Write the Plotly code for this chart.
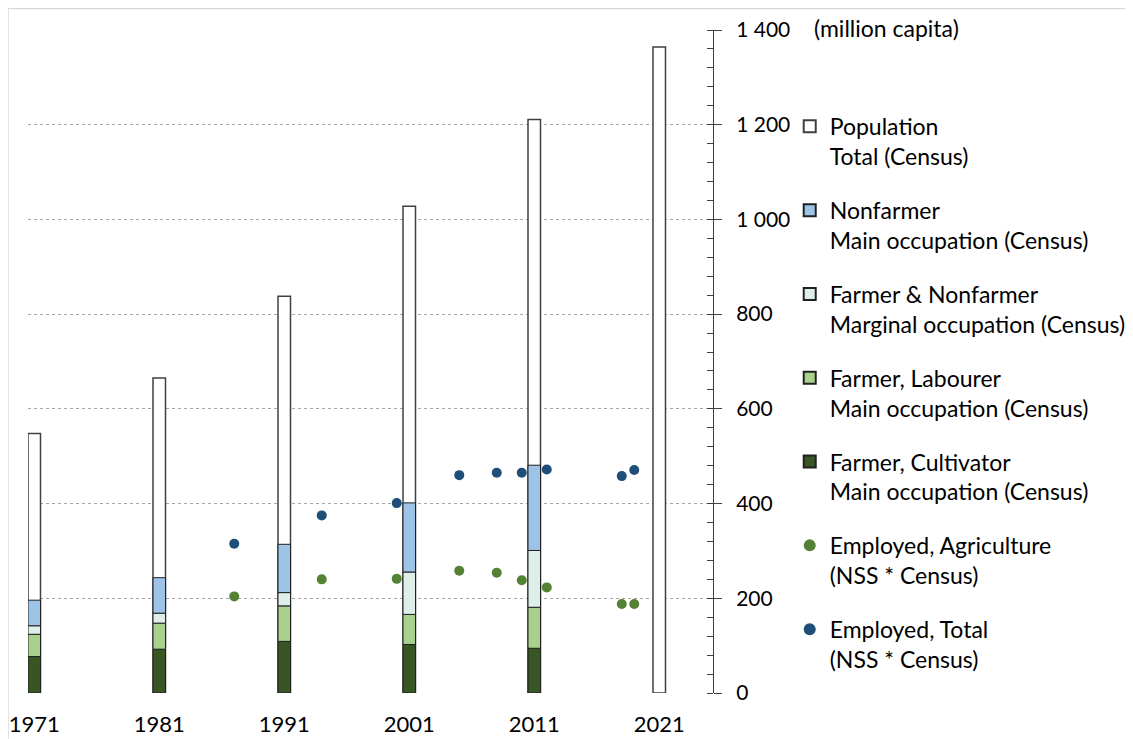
import plotly.graph_objects as go

years = [1971, 1981, 1991, 2001, 2011, 2021]
population = [548, 665, 838, 1028, 1211, 1364]
cultivator = [77, 92.5, 109, 102.5, 94.5, None]
labourer = [47, 55, 75, 63.5, 86.5, None]
marginal = [18, 21, 28, 89.5, 120, None]
nonfarmer = [54, 75, 102, 146, 180, None]

nss_years = [1987, 1994, 2000, 2005, 2008, 2010, 2012, 2018, 2019]
emp_agri = [204, 240, 241, 258, 254, 238, 223, 188, 188]
emp_total = [315, 375, 401, 460, 465, 465, 472, 458, 471]

y_ticks = [0, 200, 400, 600, 800, 1000, 1200, 1400]
y_ticktext = ["0", "200", "400", "600", "800", "1 000", "1 200", "1 400"]

FONT = "Lato"
fig = go.Figure()

fig.add_trace(go.Bar(
    x=years, y=population, width=1.0, name="Population<br>Total (Census)",
    marker=dict(color="white", line=dict(color="#404040", width=1.5)),
    legendgroup="a", legendrank=1))

segments = [
    ("Farmer, Cultivator<br>Main occupation (Census)", cultivator, "#375623", 5),
    ("Farmer, Labourer<br>Main occupation (Census)", labourer, "#A9D18E", 4),
    ("Farmer &amp; Nonfarmer<br>Marginal occupation (Census)", marginal, "#DEEFEA", 3),
    ("Nonfarmer<br>Main occupation (Census)", nonfarmer, "#9DC3E6", 2),
]
base = [0] * len(years)
for name, vals, col, rank in segments:
    yv = [v if v is not None else 0 for v in vals]
    fig.add_trace(go.Bar(
        x=years[:5], y=yv[:5], base=base[:5], width=1.0, name=name,
        marker=dict(color=col, line=dict(color="#202020", width=1)),
        legendgroup=name, legendrank=rank))
    base = [b + v for b, v in zip(base, yv)]

fig.add_trace(go.Scatter(
    x=nss_years, y=emp_agri, mode="markers", name="Employed, Agriculture<br>(NSS * Census)",
    marker=dict(color="#548235", size=10), legendgroup="g", legendrank=6))
fig.add_trace(go.Scatter(
    x=nss_years, y=emp_total, mode="markers", name="Employed, Total<br>(NSS * Census)",
    marker=dict(color="#1F4E79", size=10), legendgroup="t", legendrank=7))

fig.update_layout(
    width=1125, height=731,
    margin=dict(l=20, r=420, t=22, b=46, autoexpand=False),
    paper_bgcolor="white", plot_bgcolor="white",
    barmode="overlay",
    font=dict(family=FONT, size=20, color="#000000"),
    showlegend=True,
    legend=dict(x=1.112, y=0.887, xanchor="left", yanchor="top",
                traceorder="grouped", tracegroupgap=21, valign="top",
                bgcolor="rgba(0,0,0,0)",
                font=dict(family=FONT, size=23), itemsizing="constant"),
    xaxis=dict(range=[1970.5, 2025.3], tickvals=years, ticktext=[str(y) for y in years],
               showgrid=False, zeroline=False, showline=False, ticks="",
               ticklabelstandoff=16, ticklabeloverflow="allow", automargin=False,
               tickfont=dict(family=FONT, size=22)),
    yaxis=dict(range=[0, 1400], side="right", tickvals=y_ticks, ticktext=y_ticktext,
               showgrid=True, gridcolor="#A6A6A6", griddash="dot", gridwidth=1,
               zeroline=False, showline=True, linecolor="#404040", linewidth=1,
               ticks="outside", ticklen=8, tickcolor="#404040",
               ticklabelstandoff=10, automargin=False,
               minor=dict(ticks="inside", dtick=40, tick0=0, ticklen=6, tickcolor="#404040", showgrid=False),
               tickfont=dict(family=FONT, size=21)),
    yaxis2=dict(range=[0, 1400], overlaying="y", side="right", anchor="x",
                tickvals=y_ticks, showticklabels=False, showgrid=False, zeroline=False,
                showline=False, ticks="inside", ticklen=8, tickcolor="#404040", automargin=False),
)

fig.add_annotation(text="(million capita)", xref="paper", yref="paper", x=1.1445, y=1.003,
                   xanchor="left", yanchor="middle", showarrow=False,
                   font=dict(family=FONT, size=23))

fig.add_shape(type="line", xref="paper", yref="paper", x0=-0.0292, x1=-0.0292, y0=-0.1, y1=1.0324,
              line=dict(color="#D9D9D9", width=1.5))
fig.add_shape(type="line", xref="paper", yref="paper", x0=-0.0292, x1=1.65, y0=1.0324, y1=1.0324,
              line=dict(color="#D9D9D9", width=1.5))

fig.write_html("out.html")
